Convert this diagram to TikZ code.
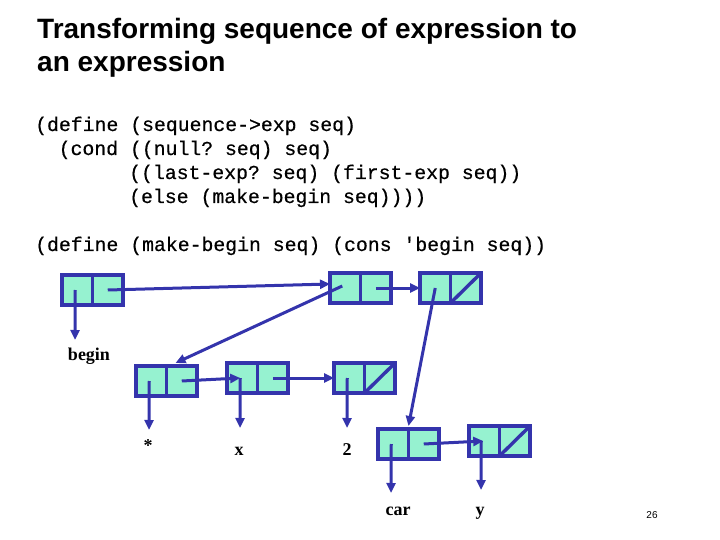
\documentclass[tikz,border=0pt]{standalone}
\usepackage{fontspec}
\setmainfont{Liberation Serif}
\setsansfont{Liberation Sans}
\setmonofont{Liberation Mono}[FakeBold=0.5]
\usetikzlibrary{arrows.meta}
\definecolor{cellfill}{RGB}{150,242,208}
\definecolor{cellline}{RGB}{52,52,172}
\tikzset{
  half/.style={draw=cellline, fill=cellfill, line width=3.2pt, minimum width=30.5pt, minimum height=30pt, inner sep=0pt, outer sep=0pt},
  ptr/.style={draw=cellline, line width=3pt, -{Triangle[length=10pt,width=9pt]}},
  slash/.style={draw=cellline, line width=3.4pt},
  lbl/.style={font=\fontsize{18}{20}\selectfont\bfseries, inner sep=0pt, anchor=base},
  code/.style={font=\ttfamily\fontsize{19.8}{22}\selectfont, inner sep=0pt, anchor=base west},
  ttl/.style={font=\sffamily\bfseries\fontsize{28}{32}\selectfont, inner sep=0pt, anchor=base west}
}
\begin{document}
\begin{tikzpicture}[x=1pt,y=-1pt]
\useasboundingbox (0,0) rectangle (720,540);
% title
\node[ttl] (t1) at (37,39) {Transforming sequence of expression to};
\node[ttl] (t2) at (37,72) {an expression};
% code
\node[code] (c1) at (35,131) {(define (sequence->exp seq)};
\node[code] (c2) at (58.5,155) {(cond ((null? seq) seq)};
\node[code] (c3) at (129,179) {((last-exp? seq) (first-exp seq))};
\node[code] (c4) at (129,203) {(else (make-begin seq))))};
\node[code] (c5) at (35,251) {(define (make-begin seq) (cons 'begin seq))};
% cells
\node[half, anchor=north west] (Aa) at (62,275) {};
\node[half, anchor=west] (Ad) at (Aa.east) {};
\node[half, anchor=north west] (Ba) at (330,273) {};
\node[half, anchor=west] (Bd) at (Ba.east) {};
\node[half, anchor=north west] (Ca) at (420,273) {};
\node[half, anchor=west] (Cd) at (Ca.east) {};
\node[half, anchor=north west] (Da) at (136,366) {};
\node[half, anchor=west] (Dd) at (Da.east) {};
\node[half, anchor=north west] (Ea) at (227,363) {};
\node[half, anchor=west] (Ed) at (Ea.east) {};
\node[half, anchor=north west] (Fa) at (334,363) {};
\node[half, anchor=west] (Fd) at (Fa.east) {};
\node[half, anchor=north west] (Ga) at (378,429) {};
\node[half, anchor=west] (Gd) at (Ga.east) {};
\node[half, anchor=north west] (Ha) at (469,426) {};
\node[half, anchor=west] (Hd) at (Ha.east) {};
% nil slashes
\draw[slash] (Cd.south west) -- (Cd.north east);
\draw[slash] (Fd.south west) -- (Fd.north east);
\draw[slash] (Hd.south west) -- (Hd.north east);
% labels
\node[lbl] (lbegin) at (89,360) {begin};
\node[lbl] (lstar) at (148,451) {*};
\node[lbl] (lx) at (239,455) {x};
\node[lbl] (ltwo) at (347,455) {2};
\node[lbl] (lcar) at (398,515) {car};
\node[lbl] (ly) at (480,515) {y};
\node[font=\sffamily\fontsize{10}{12}\selectfont, inner sep=0pt, anchor=base] (pg) at (652,518) {26};
% pointers
\coordinate (aend) at (75,340);
\draw[ptr] ([xshift=-2pt]Aa.center) -- (aend);
\draw[ptr] (Ad.center) -- ([yshift=4pt]Ba.west);
\draw[ptr] ([xshift=-3pt,yshift=2pt]Ba.center) -- ([xshift=9pt,yshift=3pt]Dd.north west);
\draw[ptr] (Bd.center) -- (Ca.west);
\draw[ptr] (Ca.center) -- ([yshift=3pt]Gd.north west);
\coordinate (dend) at (149,430);
\draw[ptr] ([xshift=-2pt]Da.center) -- (dend);
\draw[ptr] (Dd.center) -- ([xshift=-2pt]Ea.center);
\coordinate (eend) at (240,428);
\draw[ptr] ([xshift=-2pt]Ea.center) -- (eend);
\draw[ptr] (Ed.center) -- (Fa.west);
\coordinate (fend) at (347,428);
\draw[ptr] ([xshift=-2pt]Fa.center) -- (fend);
\coordinate (gend) at (391,493);
\draw[ptr] ([xshift=-2pt]Ga.center) -- (gend);
\draw[ptr] (Gd.center) -- ([xshift=-1pt]Ha.center);
\coordinate (hend) at (481,490);
\draw[ptr] ([xshift=-3pt]Ha.center) -- (hend);
\end{tikzpicture}
\end{document}
